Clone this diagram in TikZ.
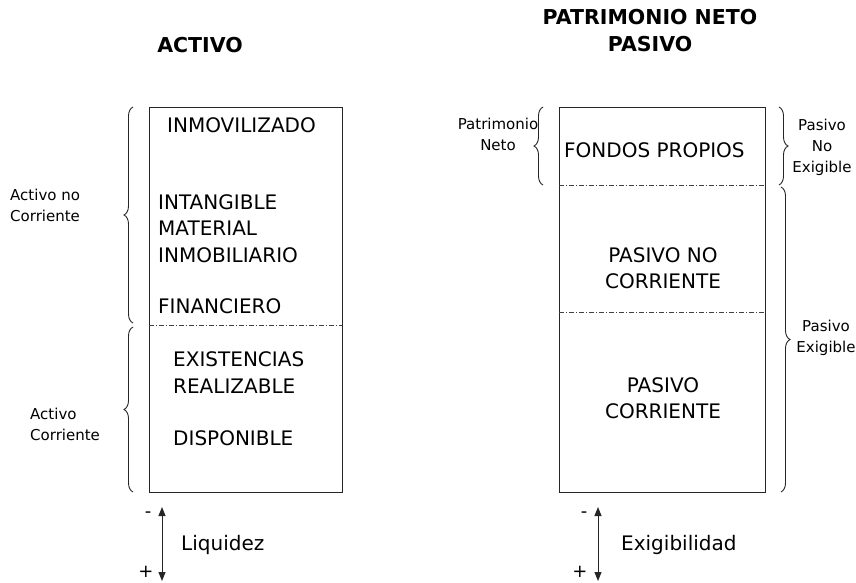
\documentclass[tikz,border=0pt]{standalone}
\usepackage{fontspec}
\setmainfont{DejaVu Sans}
\usepackage{tikz}
\usetikzlibrary{arrows.meta,decorations.pathreplacing}

\tikzset{
  item/.style={anchor=west,inner sep=0pt,font=\fontsize{20}{22}\selectfont},
  citem/.style={align=center,inner sep=0pt,font=\fontsize{20}{26}\selectfont},
  side/.style={align=center,inner sep=0pt,font=\fontsize{15}{21}\selectfont},
  signo/.style={inner sep=0pt,font=\fontsize{18}{20}\selectfont},
  head/.style={align=center,inner sep=0pt,font=\bfseries\fontsize{20.5}{27}\selectfont},
  bal/.style={draw=black!85,line width=1pt},
  sep/.style={draw=black!75,dash pattern=on 5pt off 2pt on 1pt off 2pt,line width=0.8pt},
  llave/.style={draw=black!85,line width=0.9pt,decorate,decoration={brace,amplitude=9pt}},
  flecha/.style={draw=black!85,line width=1pt,{Triangle[length=9pt,width=7pt]}-{Triangle[length=9pt,width=7pt]}}
}

\begin{document}
\begin{tikzpicture}[x=1pt,y=-1pt]
  \useasboundingbox (0,0) rectangle (856,582);
  % activo
  \draw[bal] (149,107) rectangle (342,492);
  \coordinate (ac1) at (149,325);
  \coordinate (ac2) at (342,325);
  \draw[sep] (ac1) -- (ac2);
  \node[head] (tactivo) at (200,45) {ACTIVO};
  \node[item] (inmov) at (167,125) {INMOVILIZADO};
  \node[item] (intang) at (158,202) {INTANGIBLE};
  \node[item] (mater) at (158,228) {MATERIAL};
  \node[item] (inmob) at (158,255) {INMOBILIARIO};
  \node[item] (finan) at (158,306) {FINANCIERO};
  \node[item] (exist) at (173,359) {EXISTENCIAS};
  \node[item] (realiz) at (173,386) {REALIZABLE};
  \node[item] (dispo) at (173,438) {DISPONIBLE};
  \draw[llave] (133,323) -- (133,107);
  \draw[llave] (133,492) -- (133,327);
  \node[side,anchor=west,align=left] (anc) at (10,205) {Activo no\\Corriente};
  \node[side,anchor=west,align=left] (acorr) at (30,424) {Activo\\Corriente};
  % pasivo
  \draw[bal] (559,107) rectangle (765,492);
  \coordinate (pa1) at (559,185);
  \coordinate (pa2) at (765,185);
  \coordinate (pa3) at (559,312);
  \coordinate (pa4) at (765,312);
  \draw[sep] (pa1) -- (pa2);
  \draw[sep] (pa3) -- (pa4);
  \node[head] (tpasivo) at (650,31) {PATRIMONIO NETO\\PASIVO};
  \node[item] (fondos) at (564,150) {FONDOS PROPIOS};
  \node[citem] (pnc) at (663,268) {PASIVO NO\\CORRIENTE};
  \node[citem] (pc) at (663,398) {PASIVO\\CORRIENTE};
  \draw[llave] (543,185) -- (543,107);
  \draw[llave] (779,107) -- (779,185);
  \draw[llave] (781,187) -- (781,492);
  \node[side] (pneto) at (498,134) {Patrimonio\\Neto};
  \node[side] (pnoex) at (822,147) {Pasivo\\No\\Exigible};
  \node[side] (pexig) at (826,338) {Pasivo\\Exigible};
  % flechas
  \coordinate (liq1) at (162,507);
  \coordinate (liq2) at (162,581);
  \draw[flecha] (liq1) -- (liq2);
  \node[signo] (lmenos) at (148,515) {-};
  \node[signo] (lmas) at (146,572) {+};
  \node[item] (liq) at (181,545) {Liquidez};
  \coordinate (exi1) at (598,507);
  \coordinate (exi2) at (598,581);
  \draw[flecha] (exi1) -- (exi2);
  \node[signo] (emenos) at (584,515) {-};
  \node[signo] (emas) at (580,572) {+};
  \node[item] (exig) at (621,545) {Exigibilidad};
\end{tikzpicture}
\end{document}
